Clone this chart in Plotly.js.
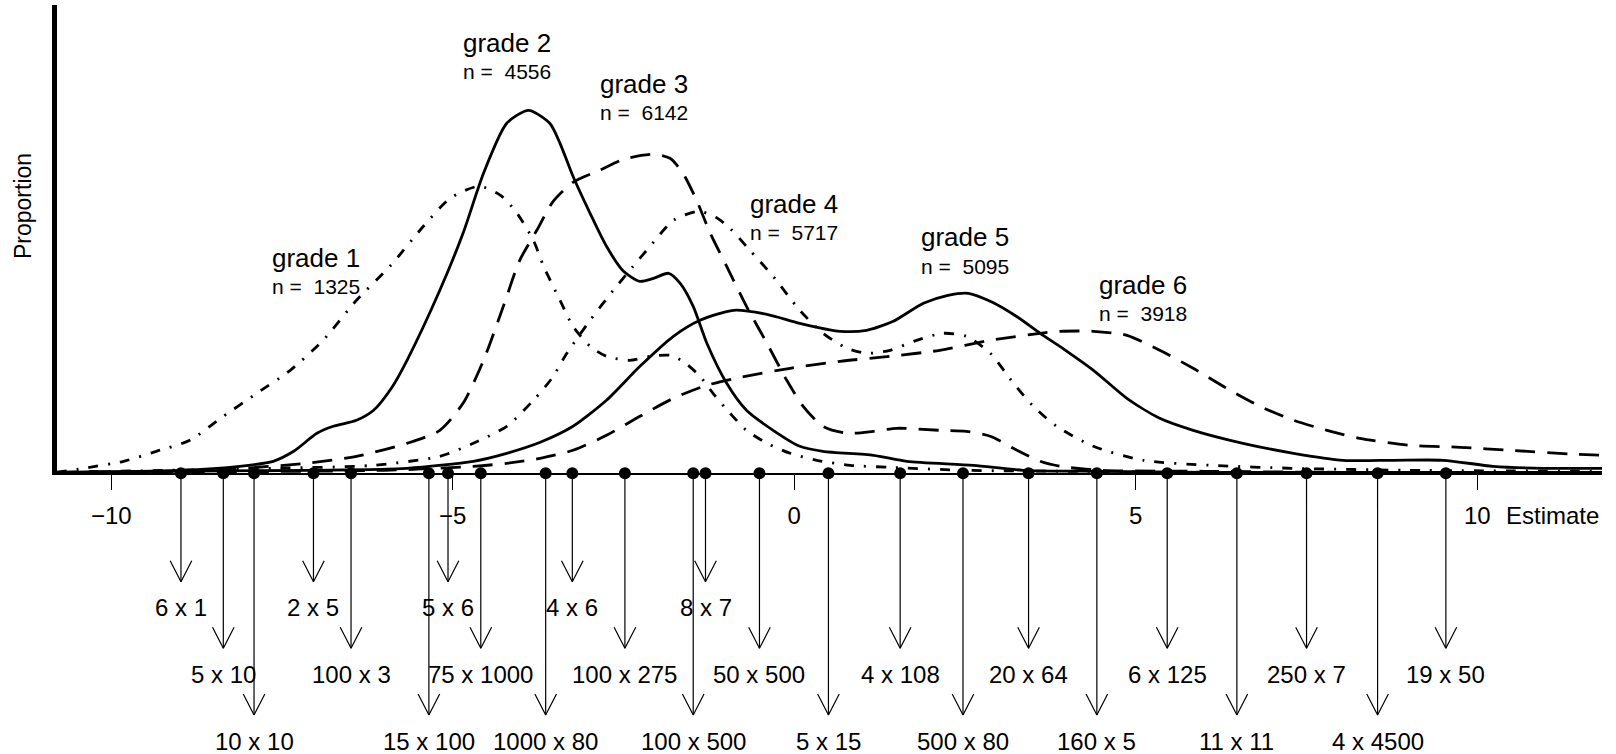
<!DOCTYPE html>
<html>
<head>
<meta charset="utf-8">
<script src="https://cdn.plot.ly/plotly-3.0.1.min.js"></script>
<style>html,body{margin:0;padding:0;background:#fff;}#chart{width:1616px;height:754px;}</style>
</head>
<body>
<div id="chart"></div>
<script>
// ---- Data ----
const gradeNames = ["grade 1", "grade 2", "grade 3", "grade 4", "grade 5", "grade 6"];
const gradeN = [1325, 4556, 6142, 5717, 5095, 3918];

const g1x = [-10.8, -10.41, -9.82, -9.34, -8.85, -8.36, -7.87, -7.38, -6.90, -6.41, -5.92, -5.43, -5.04, -4.62, -4.30, -4.06, -3.82, -3.67, -3.43, -3.24, -2.99, -2.75, -2.41, -2.11, -1.82, -1.63, -1.38, -1.19, -0.94, -0.70, -0.40, -0.06, 0.33, 0.82, 1.40, 2.5, 4, 6, 8, 10, 11.83];
const g1y = [0.001, 0.005, 0.012, 0.022, 0.033, 0.057, 0.080, 0.103, 0.133, 0.173, 0.207, 0.247, 0.275, 0.287, 0.278, 0.260, 0.233, 0.207, 0.173, 0.147, 0.127, 0.117, 0.113, 0.117, 0.118, 0.112, 0.097, 0.080, 0.060, 0.043, 0.030, 0.020, 0.013, 0.008, 0.006, 0.003, 0.002, 0.001, 0.001, 0.001, 0.001];

const g2x = [-10.8, -9.0, -8.12, -7.63, -7.33, -6.99, -6.75, -6.41, -6.16, -5.90, -5.67, -5.19, -4.85, -4.55, -4.21, -3.89, -3.58, -3.43, -3.24, -2.99, -2.75, -2.50, -2.26, -2.06, -1.84, -1.67, -1.48, -1.28, -0.99, -0.70, -0.31, 0.08, 0.42, 1.16, 1.65, 2.62, 3.35, 4.5, 6, 8, 10, 11.83];
const g2y = [0.001, 0.003, 0.007, 0.012, 0.022, 0.040, 0.047, 0.053, 0.063, 0.085, 0.113, 0.183, 0.240, 0.300, 0.350, 0.363, 0.350, 0.330, 0.297, 0.260, 0.227, 0.202, 0.192, 0.195, 0.200, 0.190, 0.167, 0.130, 0.090, 0.063, 0.043, 0.027, 0.022, 0.018, 0.012, 0.008, 0.003, 0.002, 0.001, 0.001, 0.001, 0.001];

const g3x = [-10.8, -8.60, -7.14, -6.41, -5.67, -5.19, -4.85, -4.55, -4.26, -4.02, -3.77, -3.53, -3.24, -2.85, -2.50, -2.06, -1.82, -1.63, -1.43, -1.23, -0.99, -0.70, -0.40, -0.11, 0.13, 0.42, 0.77, 1.16, 1.50, 2.13, 2.52, 2.87, 3.26, 3.60, 3.89, 4.5, 6, 8, 10, 11.83];
const g3y = [0.001, 0.003, 0.010, 0.017, 0.030, 0.043, 0.070, 0.113, 0.167, 0.213, 0.243, 0.272, 0.291, 0.303, 0.314, 0.319, 0.315, 0.300, 0.273, 0.240, 0.207, 0.167, 0.130, 0.093, 0.067, 0.047, 0.040, 0.042, 0.045, 0.043, 0.042, 0.037, 0.023, 0.012, 0.007, 0.003, 0.002, 0.001, 0.001, 0.001];

const g4x = [-10.8, -7.63, -6.16, -5.19, -4.70, -4.21, -3.82, -3.55, -3.33, -2.99, -2.65, -2.36, -2.11, -1.77, -1.40, -1.15, -0.94, -0.65, -0.31, 0.08, 0.42, 0.77, 1.06, 1.40, 1.79, 2.18, 2.52, 2.87, 3.21, 3.50, 3.84, 4.38, 5.11, 6.09, 7.3, 9, 11.83];
const g4y = [0.001, 0.005, 0.008, 0.017, 0.030, 0.047, 0.073, 0.095, 0.120, 0.153, 0.183, 0.207, 0.227, 0.253, 0.262, 0.256, 0.245, 0.223, 0.197, 0.163, 0.140, 0.125, 0.120, 0.123, 0.133, 0.140, 0.137, 0.120, 0.090, 0.067, 0.047, 0.027, 0.013, 0.008, 0.005, 0.003, 0.002];

const g5x = [-10.8, -7.1, -5.67, -4.70, -4.21, -3.72, -3.24, -2.75, -2.26, -1.77, -1.38, -0.89, -0.40, 0.08, 0.67, 1.06, 1.45, 1.89, 2.25, 2.55, 2.90, 3.25, 3.60, 3.95, 4.38, 4.87, 5.35, 5.84, 6.57, 7.31, 8.04, 8.77, 9.50, 10.23, 10.97, 11.83];
const g5y = [0.001, 0.003, 0.005, 0.012, 0.020, 0.031, 0.047, 0.073, 0.107, 0.137, 0.153, 0.163, 0.159, 0.150, 0.142, 0.143, 0.152, 0.170, 0.178, 0.180, 0.171, 0.157, 0.140, 0.124, 0.103, 0.075, 0.055, 0.043, 0.030, 0.020, 0.013, 0.013, 0.013, 0.007, 0.005, 0.005];

const g6x = [-10.8, -6, -4.70, -4.21, -3.72, -3.24, -2.75, -2.26, -1.77, -1.28, -0.79, -0.06, 0.67, 1.40, 2.13, 2.87, 3.60, 3.89, 4.38, 4.87, 5.35, 5.84, 6.33, 6.82, 7.31, 7.80, 8.28, 9.01, 9.75, 10.48, 11.46, 11.83];
const g6y = [0.001, 0.003, 0.007, 0.010, 0.015, 0.023, 0.038, 0.057, 0.075, 0.088, 0.096, 0.105, 0.112, 0.117, 0.123, 0.133, 0.140, 0.142, 0.142, 0.138, 0.123, 0.105, 0.085, 0.067, 0.053, 0.043, 0.035, 0.028, 0.026, 0.023, 0.019, 0.018];

// estimation problems marked on the axis
const problemLabels = ["6 x 1", "5 x 10", "10 x 10", "2 x 5", "100 x 3", "15 x 100", "5 x 6", "75 x 1000", "1000 x 80", "4 x 6", "100 x 275", "100 x 500", "8 x 7", "50 x 500", "5 x 15", "4 x 108", "500 x 80", "20 x 64", "160 x 5", "6 x 125", "11 x 11", "250 x 7", "4 x 4500", "19 x 50"];
const problemEstimates = [-8.98, -8.36, -7.91, -7.04, -6.49, -5.35, -5.07, -4.59, -3.64, -3.25, -2.48, -1.48, -1.30, -0.51, 0.50, 1.55, 2.47, 3.43, 4.43, 5.46, 6.48, 7.50, 8.54, 9.54];
const problemRow = [1, 2, 3, 1, 2, 3, 1, 2, 3, 1, 2, 3, 1, 2, 3, 2, 3, 2, 3, 2, 3, 2, 3, 2];

const xTicks = [-10, -5, 0, 5, 10];

// ---- Layout constants ----
const W = 1616, H = 754;
const M = {l: 57, r: 14, t: 5, b: 0};
const xRange = [-10.795, 11.826];
const plotW = W - M.l - M.r, plotH = H - M.t - M.b;
const axisFromBottom = 280.7;               // pixels from bottom to x axis line
const split = axisFromBottom / plotH;
const pxPerX = plotW / (xRange[1] - xRange[0]);
const tipDepth = [108.4, 175, 241.7];
const textDepth = [134.5, 201, 268.5];
const headHalfW = 10.8 / pxPerX, headLen = 21;

const FONT = "Liberation Sans, Arial, Helvetica, sans-serif";
const solid = {color: "#000", width: 2.8, shape: "spline", smoothing: 0.7};
const dashed = {color: "#000", width: 2.8, shape: "spline", smoothing: 0.7, dash: "20px,12px"};
const dotdash = {color: "#000", width: 2.8, shape: "spline", smoothing: 0.7, dash: "10px,10px,2px,10px"};

const curveX = [g1x, g2x, g3x, g4x, g5x, g6x];
const curveY = [g1y, g2y, g3y, g4y, g5y, g6y];
const curveLine = [dotdash, solid, dashed, dotdash, solid, dashed];

const traces = curveX.map((xs, i) => ({
  type: "scatter", mode: "lines", x: xs, y: curveY[i],
  line: curveLine[i], xaxis: "x", yaxis: "y", hoverinfo: "skip", name: gradeNames[i]
}));

// arrows (stems + open V heads)
const ax = [], ay = [];
problemEstimates.forEach((e, i) => {
  const tip = tipDepth[problemRow[i] - 1];
  ax.push(e, e, null, e - headHalfW, e, e + headHalfW, null);
  ay.push(0, -tip, null, -tip + headLen, -tip, -tip + headLen, null);
});
traces.push({
  type: "scatter", mode: "lines", x: ax, y: ay, xaxis: "x", yaxis: "y2",
  line: {color: "#000", width: 1.2}, hoverinfo: "skip", cliponaxis: false
});
// dots on axis
traces.push({
  type: "scatter", mode: "markers", x: problemEstimates, y: problemEstimates.map(() => 0),
  xaxis: "x", yaxis: "y2", marker: {color: "#000", size: 12}, cliponaxis: false, hoverinfo: "skip"
});

const annotations = [];
problemLabels.forEach((t, i) => {
  annotations.push({
    text: t, x: problemEstimates[i], y: -textDepth[problemRow[i] - 1],
    xref: "x", yref: "y2", showarrow: false, xanchor: "center", yanchor: "middle",
    font: {family: FONT, size: 24, color: "#000"}
  });
});

// grade labels (positions in data space)
const gradeLabelX = [-7.01, -4.20, -2.20, -0.01, 2.50, 5.10];
const gradeLabelY = [0.215, 0.430, 0.389, 0.269, 0.236, 0.188];
const nLabelY = [0.187, 0.402, 0.361, 0.241, 0.207, 0.160];
gradeNames.forEach((g, i) => {
  annotations.push({text: g, x: gradeLabelX[i], y: gradeLabelY[i], xref: "x", yref: "y",
    showarrow: false, xanchor: "center", yanchor: "middle", font: {family: FONT, size: 26, color: "#000"}});
  annotations.push({text: "n = \u00a0" + gradeN[i], x: gradeLabelX[i], y: nLabelY[i], xref: "x", yref: "y",
    showarrow: false, xanchor: "center", yanchor: "middle", font: {family: FONT, size: 21, color: "#000"}});
});

annotations.push({text: "Proportion", textangle: -90, xref: "paper", yref: "paper",
  x: (23 - M.l) / plotW, y: (H - 206 - M.b) / plotH, xanchor: "center", yanchor: "middle",
  showarrow: false, font: {family: FONT, size: 23, color: "#000"}});
annotations.push({text: "Estimate", xref: "paper", yref: "y2",
  x: (1552 - M.l) / plotW, y: -41.7, xanchor: "center", yanchor: "middle",
  showarrow: false, font: {family: FONT, size: 24, color: "#000"}});

const layout = {
  width: W, height: H, margin: M, showlegend: false,
  paper_bgcolor: "#fff", plot_bgcolor: "rgba(0,0,0,0)",
  font: {family: FONT, color: "#000"},
  xaxis: {
    range: xRange, anchor: "y", showgrid: false, zeroline: false,
    showline: true, linecolor: "#000", linewidth: 1.3,
    ticks: "outside", ticklen: 15, tickwidth: 1.3, tickcolor: "#000",
    tickvals: xTicks, ticktext: xTicks.map(v => v < 0 ? "\u2212" + Math.abs(v) : String(v)),
    tickfont: {family: FONT, size: 24, color: "#000"}, ticklabelstandoff: 6
  },
  yaxis: {
    domain: [split, 1], range: [0, (plotH - axisFromBottom) / 1000], anchor: "x",
    showgrid: false, zeroline: false, showline: true, linecolor: "#000", linewidth: 5,
    showticklabels: false, ticks: ""
  },
  yaxis2: {
    domain: [0, split], range: [-axisFromBottom, 0], anchor: "x",
    visible: false, showgrid: false, zeroline: false
  },
  annotations: annotations
};

Plotly.newPlot("chart", traces, layout, {displayModeBar: false, staticPlot: true});
</script>
</body>
</html>
